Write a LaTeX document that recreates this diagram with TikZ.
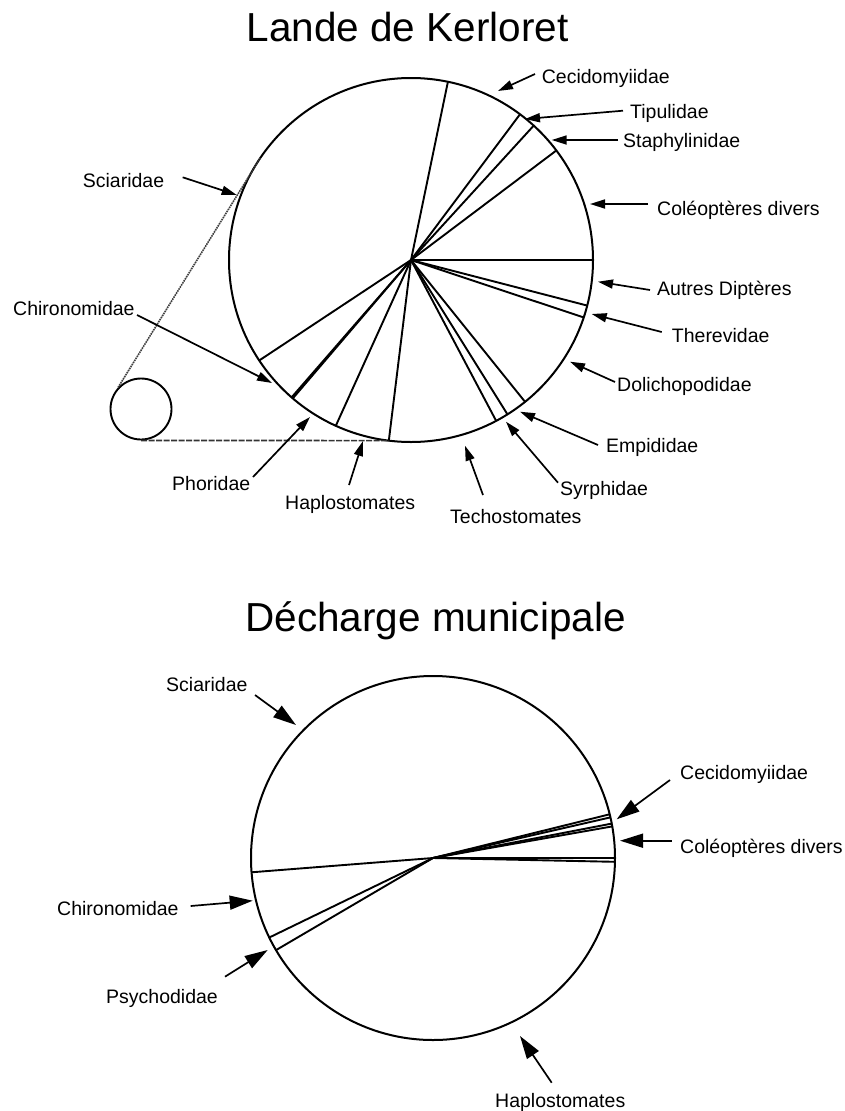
\documentclass[tikz,border=0pt]{standalone}
\usepackage{fontspec}
\setmainfont{Liberation Sans}
\usetikzlibrary{arrows.meta,calc}
\begin{document}
\begin{tikzpicture}[x=1pt,y=-1pt,
  pie/.style={line width=2pt},
  spoke/.style={line width=1.9pt},
  lbl/.style={anchor=base west, inner sep=0pt, font=\fontsize{19.5}{23}\selectfont},
  ttl/.style={anchor=base, inner sep=0pt, font=\fontsize{40.5}{48}\selectfont},
  arrA/.style={line width=1.7pt, -{Triangle[length=15pt,width=9pt]}},
  arrB/.style={line width=1.7pt, -{Triangle[length=23pt,width=14pt]}},
  dotline/.style={line width=1.6pt, black!75, dash pattern=on 1.6pt off 0.8pt},
  dashline/.style={line width=1.7pt, black!80, dash pattern=on 6pt off 1.5pt},
]
\useasboundingbox (0,0) rectangle (845,1111);

% ---------------- Top pie ----------------
\node[ttl] (t1) at (407.5,41.7) {Lande de Kerloret};
\coordinate (C1) at (411,260);
\draw[pie] (C1) circle[radius=182pt];
\foreach \a in {-78.3,-53.2,-47.6,-37,0,14.5,18.4,51.2,58,62.1,97,114.4,130.5,131.0,146.5}
  \draw[spoke] (C1) -- ($(C1)+(\a:182)$);

\node[draw, circle, line width=1.9pt, minimum size=61pt, inner sep=0pt] (sc) at (141,409) {};
\coordinate (P1) at ($(C1)+(-146:182)$);
\coordinate (P2) at ($(C1)+(97:182)$);
\draw[dotline] (sc.137) -- (P1);
\draw[dashline] (sc.south) -- (P2);

\node[lbl] (a1) at (541.7,83) {Cecidomyiidae};
\node[lbl] (a2) at (630,118.7) {Tipulidae};
\node[lbl] (a3) at (623,147) {Staphylinidae};
\node[lbl] (a4) at (657,215) {Coléoptères divers};
\node[lbl] (a5) at (657,295) {Autres Diptères};
\node[lbl] (a6) at (671.7,342) {Therevidae};
\node[lbl] (a7) at (617,391) {Dolichopodidae};
\node[lbl] (a8) at (606,452.7) {Empididae};
\node[lbl] (a9) at (560,495) {Syrphidae};
\node[lbl] (a10) at (450,523) {Techostomates};
\node[lbl] (a11) at (285,509) {Haplostomates};
\node[lbl] (a12) at (172,490) {Phoridae};
\node[lbl] (a13) at (13,315) {Chironomidae};
\node[lbl] (a14) at (82.7,187.7) {Sciaridae};

\coordinate (s1) at (535,74);    \coordinate (e1) at (498,91);
\coordinate (s2) at (623,110.7); \coordinate (e2) at (525,119);
\coordinate (s3) at (618,140);   \coordinate (e3) at (551.7,140);
\coordinate (s4) at (648,204);   \coordinate (e4) at (590,204);
\coordinate (s5) at (650,290);   \coordinate (e5) at (598,281.7);
\coordinate (s6) at (661.7,332); \coordinate (e6) at (591.7,314);
\coordinate (s7) at (615,382);   \coordinate (e7) at (570,361.7);
\coordinate (s8) at (598,445);   \coordinate (e8) at (520,411.7);
\coordinate (s9) at (558,482.7); \coordinate (e9) at (506,421.7);
\coordinate (s10) at (483,495);  \coordinate (e10) at (465,445.7);
\coordinate (s11) at (349,485);  \coordinate (e11) at (363,441);
\coordinate (s12) at (253,477);  \coordinate (e12) at (310,417);
\coordinate (s13) at (137,315);  \coordinate (e13) at (272,383);
\coordinate (s14) at (182.7,177.3); \coordinate (e14) at (236.7,195);
\foreach \i in {1,...,14} \draw[arrA] (s\i) -- (e\i);

% ---------------- Bottom pie ----------------
\node[ttl] (t2) at (435.5,631.7) {Décharge municipale};
\coordinate (C2) at (433,858);
\draw[pie] (C2) circle[radius=182pt];
\foreach \a in {-13.9,-12.9,-10.9,-10,0,1.2,175.5,154.1,149.6}
  \draw[spoke] (C2) -- ($(C2)+(\a:182)$);

\node[lbl] (b1) at (166,691.7) {Sciaridae};
\node[lbl] (b2) at (57,915) {Chironomidae};
\node[lbl] (b3) at (106,1003.5) {Psychodidae};
\node[lbl] (b4) at (680,779.5) {Cecidomyiidae};
\node[lbl] (b5) at (680,853.5) {Coléoptères divers};
\node[lbl] (b6) at (495,1107) {Haplostomates};

\coordinate (u1) at (255,695);     \coordinate (v1) at (296,725);
\coordinate (u2) at (190.7,906);   \coordinate (v2) at (252.7,900.7);
\coordinate (u3) at (225,976.7);   \coordinate (v3) at (267.7,950);
\coordinate (u4) at (670,780);     \coordinate (v4) at (616.7,819.3);
\coordinate (u5) at (671.7,840.7); \coordinate (v5) at (620,840.7);
\coordinate (u6) at (551.7,1082.7);\coordinate (v6) at (520,1036);
\foreach \i in {1,...,6} \draw[arrB] (u\i) -- (v\i);
\end{tikzpicture}
\end{document}
